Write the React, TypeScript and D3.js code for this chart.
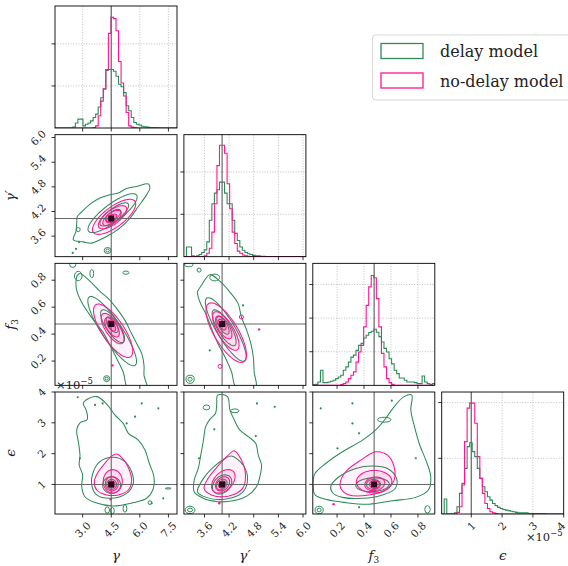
import React from "react";
import * as d3 from "d3";

type Pt = [number, number];
type Ell = [number, number, number, number, number, number]; // cx, cy, major(dx,dy), minor(dx,dy)
type Ring = [number, number, number, number]; // cx, cy, rx, ry

const GREEN = "#2e8b57";
const PINK = "#ff1493";
const FONT = "DejaVu Serif, serif";

// parameters: gamma, gamma', f3, epsilon (x1e-5)
const paramRanges: Pt[] = [[1.55, 7.95], [3.1, 6.07], [0.02, 0.925], [0.04, 4.0]];
const truthValues = [4.5, 4.03, 0.475, 1.0];
const tickValues = [[3.0, 4.5, 6.0, 7.5], [3.6, 4.2, 4.8, 5.4, 6.0], [0.2, 0.4, 0.6, 0.8], [1, 2, 3, 4]];
const tickLabels = [["3.0", "4.5", "6.0", "7.5"], ["3.6", "4.2", "4.8", "5.4", "6.0"], ["0.2", "0.4", "0.6", "0.8"], ["1", "2", "3", "4"]];
const histTop = [2.9, 2.88, 3.63, 2.19];
const histTicks = [[1, 2], [1, 2], [1, 2, 3], [1, 2]];

// 1d histograms (48 bins over each range)
const histGammaDelay = [0, 0, 0, 0, 0, 0, 0, 0.02, 0.12, 0.21, 0.21, 0.05, 0.09, 0.12, 0.17, 0.25, 0.33, 0.5, 0.72, 0.93, 1.37, 1.39, 1.39, 1.35, 1.23, 1.04, 0.98, 0.84, 0.53, 0.41, 0.25, 0.13, 0.09, 0.07, 0.04, 0.03, 0.02, 0.01, 0.01, 0.01, 0.005, 0, 0, 0, 0, 0, 0, 0];
const histGammaNoDelay = [0, 0, 0, 0, 0, 0, 0, 0, 0, 0, 0, 0, 0, 0, 0, 0.01, 0.05, 0.29, 0.64, 0.93, 1.39, 2.25, 2.63, 2.6, 2.31, 1.58, 1.07, 0.76, 0.37, 0.05, 0.02, 0.01, 0, 0, 0, 0, 0, 0, 0, 0, 0, 0, 0, 0, 0, 0, 0, 0];
const histGpDelay = [0, 0.23, 0.23, 0.02, 0.01, 0.02, 0.05, 0.1, 0.16, 0.35, 0.86, 1.25, 1.5, 1.58, 1.76, 1.76, 1.5, 1.25, 1.25, 0.86, 0.55, 0.38, 0.23, 0.15, 0.1, 0.07, 0.05, 0.03, 0.02, 0.02, 0.01, 0.01, 0, 0, 0, 0, 0, 0, 0, 0, 0, 0, 0, 0, 0, 0, 0, 0];
const histGpNoDelay = [0, 0, 0, 0, 0, 0, 0, 0, 0.02, 0.08, 0.2, 0.58, 1.25, 2.15, 2.63, 2.63, 2.44, 1.72, 1.13, 0.58, 0.31, 0.13, 0.08, 0.04, 0.02, 0.01, 0, 0, 0, 0, 0, 0, 0, 0, 0, 0, 0, 0, 0, 0, 0, 0, 0, 0, 0, 0, 0, 0];
const histF3Delay = [0.02, 0.03, 0.1, 0.45, 0.08, 0.08, 0.1, 0.12, 0.15, 0.2, 0.25, 0.3, 0.45, 0.55, 0.69, 0.84, 0.9, 1.04, 1.19, 1.25, 1.41, 1.49, 1.57, 1.61, 1.67, 1.58, 1.45, 1.29, 1.1, 0.99, 0.79, 0.64, 0.45, 0.35, 0.22, 0.22, 0.15, 0.1, 0.1, 0.1, 0.08, 0.05, 0.05, 0.28, 0.1, 0.05, 0.02, 0.05];
const histF3NoDelay = [0, 0, 0, 0, 0, 0, 0, 0, 0, 0, 0, 0.02, 0.05, 0.1, 0.2, 0.3, 0.4, 0.69, 0.99, 1.19, 1.74, 2.38, 2.93, 3.27, 3.2, 2.58, 1.74, 0.95, 0.55, 0.2, 0.08, 0.03, 0, 0, 0, 0, 0, 0, 0, 0, 0, 0, 0, 0, 0, 0, 0, 0];
const histEpsDelay = [0, 0.27, 0, 0, 0, 0.02, 0.13, 0.37, 0.55, 0.82, 1.21, 1.28, 1.12, 1.03, 0.82, 0.64, 0.49, 0.4, 0.31, 0.25, 0.19, 0.15, 0.12, 0.1, 0.08, 0.07, 0.06, 0.05, 0.04, 0.03, 0.02, 0.02, 0.02, 0.02, 0.01, 0.01, 0.01, 0.01, 0.01, 0.01, 0.01, 0, 0, 0, 0, 0, 0, 0];
const histEpsNoDelay = [0, 0, 0, 0, 0, 0, 0.03, 0.13, 0.52, 1.3, 1.9, 1.99, 1.99, 1.63, 1.03, 0.64, 0.37, 0.19, 0.1, 0.04, 0.02, 0.01, 0, 0, 0, 0, 0, 0, 0, 0, 0, 0, 0, 0, 0, 0, 0, 0, 0, 0, 0, 0, 0, 0, 0, 0, 0, 0];

const histDelay = [histGammaDelay, histGpDelay, histF3Delay, histEpsDelay];
const histNoDelay = [histGammaNoDelay, histGpNoDelay, histF3NoDelay, histEpsNoDelay];

// gamma' vs gamma
const outerD10: Pt[] = [[6.45, 4.87], [5.83, 4.81], [5.31, 4.76], [4.87, 4.65], [4.44, 4.61], [3.91, 4.53], [3.39, 4.38], [2.95, 4.19], [2.72, 4.08], [2.69, 3.92], [2.65, 3.72], [2.51, 3.51], [3.03, 3.46], [3.48, 3.43], [3.91, 3.51], [4.44, 3.64], [4.96, 3.8], [5.49, 4.04], [5.92, 4.32], [6.36, 4.61], [6.53, 4.77]];
const ellD10: Ell[] = [[4.57, 4.16, 1.26, 0.44, 0.28, -0.175], [4.66, 4.13, 0.73, 0.256, 0.19, -0.117], [4.6, 4.1, 0.38, 0.13, 0.126, -0.078]];
const ellN10: Ell[] = [[4.65, 4.07, 1.09, 0.38, 0.315, -0.195], [4.57, 4.06, 0.714, 0.248, 0.22, -0.136], [4.54, 4.04, 0.46, 0.16, 0.157, -0.097], [4.52, 4.03, 0.25, 0.088, 0.094, -0.058]];
const ringsD10: Ring[] = [[4.31, 3.25, 0.18, 0.073], [4.31, 3.25, 0.09, 0.035], [2.77, 3.76, 0.1, 0.05]];
const dotsD10: Pt[] = [[2.81, 3.46], [2.65, 3.29], [2.48, 3.19]];

// f3 vs gamma
const outerD20: Pt[] = [[2.86, 0.849], [3.39, 0.791], [3.91, 0.717], [4.35, 0.663], [4.79, 0.589], [5.22, 0.502], [5.57, 0.403], [5.84, 0.329], [6.1, 0.255], [6.22, 0.168], [6.22, 0.094], [6.36, 0.0], [5.4, -0.01], [5.13, 0.119], [4.79, 0.218], [4.44, 0.317], [4.08, 0.411], [3.65, 0.49], [3.24, 0.569], [2.9, 0.65], [2.69, 0.725], [2.65, 0.791], [2.72, 0.836]];
const ellD20: Ell[] = [[4.55, 0.422, 1.2, -0.254, 0.437, 0.041], [4.57, 0.459, 0.56, -0.1185, 0.284, 0.0268], [4.55, 0.47, 0.263, -0.0556, 0.175, 0.0165]];
const ellN20: Ell[] = [[4.6, 0.425, 0.91, -0.193, 0.48, 0.045], [4.57, 0.441, 0.513, -0.109, 0.306, 0.029], [4.54, 0.45, 0.32, -0.068, 0.218, 0.0206], [4.51, 0.461, 0.175, -0.037, 0.131, 0.0124]];
const ringsD20: Ring[] = [[2.48, 0.915, 0.16, 0.02], [2.77, 0.831, 0.2, 0.035], [3.48, 0.849, 0.1, 0.03], [5.27, 0.856, 0.16, 0.012], [4.26, 0.07, 0.16, 0.022], [4.26, 0.07, 0.08, 0.011]];
const dotsN20: Pt[] = [[4.56, 0.168]];

// eps vs gamma
const outerD30: Pt[] = [[3.18, 3.74], [3.74, 3.85], [4.26, 3.61], [4.7, 3.25], [5.13, 2.98], [5.4, 2.66], [5.92, 2.44], [6.27, 2.12], [6.5, 1.68], [6.74, 1.25], [6.68, 0.82], [6.36, 0.55], [5.66, 0.41], [4.61, 0.3], [3.65, 0.41], [3.12, 0.6], [2.95, 0.95], [3.0, 1.31], [2.82, 1.63], [2.86, 1.95], [2.79, 2.33], [2.69, 2.77], [2.86, 3.0], [3.24, 3.11], [3.18, 3.42], [3.03, 3.63]];
const shapeD30: Pt[] = [[3.91, 1.74], [4.61, 1.88], [5.22, 1.74], [5.57, 1.41], [5.66, 1.04], [5.31, 0.71], [4.44, 0.55], [3.74, 0.66], [3.48, 0.98], [3.56, 1.41]];
const shapeN30: Pt[] = [[4.79, 1.99], [5.17, 1.79], [5.45, 1.47], [5.57, 1.14], [5.4, 0.82], [4.87, 0.66], [4.26, 0.66], [3.74, 0.82], [3.61, 1.09], [3.82, 1.41], [4.17, 1.69], [4.52, 1.92]];
const ellD30: Ell[] = [[4.52, 0.98, 0.47, 0, 0, 0.27], [4.52, 1.0, 0.26, 0, 0, 0.16]];
const ellN30: Ell[] = [[4.58, 1.1, 0.5, 0, 0, 0.38], [4.53, 1.02, 0.34, 0, 0, 0.23], [4.52, 1.0, 0.18, 0, 0, 0.11]];
const ringsD30: Ring[] = [[6.53, 0.41, 0.1, 0.06], [4.29, 0.17, 0.12, 0.1], [4.56, 0.15, 0.1, 0.1], [5.22, 0.22, 0.1, 0.12], [7.49, 0.87, 0.15, 0.02]];
const dotsD30: Pt[] = [[2.74, 3.83], [3.65, 3.58], [4.05, 3.63], [6.1, 3.63], [6.97, 3.47], [5.75, 3.2], [5.31, 2.98], [6.62, 0.39], [7.23, 0.55], [2.86, 1.85]];
const dotsN30: Pt[] = [[4.47, 0.52]];

// f3 vs gamma'
const outerD21: Pt[] = [[3.73, 0.841], [3.98, 0.791], [4.22, 0.712], [4.42, 0.626], [4.5, 0.527], [4.63, 0.428], [4.73, 0.329], [4.79, 0.23], [4.81, 0.119], [4.85, 0.0], [4.38, 0.0], [4.26, 0.119], [4.1, 0.23], [3.93, 0.329], [3.79, 0.428], [3.65, 0.539], [3.49, 0.638], [3.43, 0.712], [3.53, 0.762]];
const ellD21: Ell[] = [[4.12, 0.434, 0.46, -0.234, 0.19, 0.035], [4.08, 0.447, 0.258, -0.131, 0.136, 0.0248], [4.05, 0.465, 0.125, -0.0636, 0.083, 0.0153]];
const ellN21: Ell[] = [[4.13, 0.411, 0.425, -0.216, 0.25, 0.046], [4.12, 0.423, 0.275, -0.14, 0.167, 0.0305], [4.07, 0.45, 0.163, -0.0826, 0.115, 0.021], [4.03, 0.47, 0.075, -0.038, 0.063, 0.0114]];
const ringsD21: Ring[] = [[3.22, 0.915, 0.1, 0.015], [3.47, 0.875, 0.05, 0.015], [3.25, 0.065, 0.1, 0.03], [3.25, 0.065, 0.05, 0.015], [3.85, 0.82, 0.12, 0.025]];
const dotsD21: Pt[] = [[3.73, 0.28], [4.54, 0.613]];
const ringsN21: Ring[] = [[4.5, 0.527, 0.05, 0.015], [3.98, 0.161, 0.05, 0.015]];
const dotsN21: Pt[] = [[4.93, 0.435]];

// eps vs gamma'
const outerD31: Pt[] = [[3.92, 3.9], [4.16, 3.85], [4.22, 3.42], [4.32, 3.11], [4.46, 2.77], [4.67, 2.55], [4.85, 2.33], [4.91, 1.95], [4.99, 1.63], [4.95, 1.25], [4.87, 0.93], [4.63, 0.62], [4.3, 0.47], [3.93, 0.44], [3.57, 0.55], [3.35, 0.76], [3.35, 1.14], [3.45, 1.52], [3.51, 1.95], [3.57, 2.39], [3.63, 2.87], [3.73, 3.11], [3.87, 3.31], [3.9, 3.63]];
const shapeD31: Pt[] = [[4.26, 1.92], [4.54, 1.63], [4.65, 1.2], [4.54, 0.76], [4.1, 0.52], [3.65, 0.58], [3.43, 0.76], [3.55, 1.14], [3.81, 1.55], [4.06, 1.81]];
const shapeN31: Pt[] = [[4.32, 2.09], [4.5, 1.79], [4.6, 1.31], [4.53, 0.87], [4.18, 0.62], [3.77, 0.66], [3.59, 0.87], [3.69, 1.2], [3.93, 1.6], [4.18, 1.95]];
const ellD31: Ell[] = [[4.03, 1.0, 0.19, 0.25, 0.138, -0.184], [4.02, 1.0, 0.103, 0.138, 0.077, -0.103]];
const ellN31: Ell[] = [[4.06, 1.1, 0.241, 0.321, 0.155, -0.207], [4.04, 1.02, 0.138, 0.184, 0.103, -0.138], [4.03, 1.0, 0.069, 0.092, 0.052, -0.069]];
const ringsD31: Ring[] = [[3.65, 3.5, 0.08, 0.08], [4.34, 3.39, 0.1, 0.06], [3.25, 0.17, 0.12, 0.12], [3.25, 0.17, 0.06, 0.06]];
const dotsD31: Pt[] = [[4.88, 3.63], [5.31, 3.52], [3.84, 2.79], [3.47, 1.85], [4.85, 2.57]];
const dotsN31: Pt[] = [[3.96, 0.39]];

// eps vs f3
const outerD32: Pt[] = [[0.037, 1.36], [0.116, 1.68], [0.24, 2.06], [0.389, 2.44], [0.487, 2.77], [0.562, 3.15], [0.623, 3.52], [0.697, 3.85], [0.754, 3.9], [0.747, 3.42], [0.771, 2.93], [0.813, 2.28], [0.863, 1.74], [0.895, 1.25], [0.878, 0.82], [0.782, 0.58], [0.611, 0.47], [0.438, 0.36], [0.265, 0.41], [0.116, 0.52], [0.037, 0.66], [0.022, 1.04]];
const shapeD32: Pt[] = [[0.154, 0.95], [0.215, 1.25], [0.339, 1.52], [0.463, 1.6], [0.574, 1.52], [0.641, 1.2], [0.631, 0.87], [0.537, 0.66], [0.389, 0.55], [0.24, 0.58], [0.166, 0.73]];
const shapeN32: Pt[] = [[0.228, 1.14], [0.277, 1.47], [0.376, 1.79], [0.487, 2.06], [0.574, 1.95], [0.623, 1.57], [0.623, 1.14], [0.562, 0.82], [0.438, 0.66], [0.289, 0.66], [0.228, 0.87]];
const ellD32: Ell[] = [[0.463, 0.99, 0.124, 0.04, -0.01, 0.22], [0.47, 1.0, 0.052, 0, 0, 0.16]];
const ellN32: Ell[] = [[0.475, 1.09, 0.13, 0.06, -0.02, 0.36], [0.48, 1.02, 0.074, 0.03, 0, 0.22], [0.478, 1.0, 0.037, 0, 0, 0.13]];
const ringsD32: Ring[] = [[0.067, 0.17, 0.03, 0.12], [0.067, 0.17, 0.015, 0.06], [0.871, 0.19, 0.02, 0.12], [0.55, 3.1, 0.05, 0.08]];
const dotsD32: Pt[] = [[0.079, 3.47], [0.314, 3.63], [0.314, 2.98], [0.363, 2.66], [0.606, 3.72], [0.203, 2.17], [0.784, 1.85], [0.363, 0.26]];
const dotsN32: Pt[] = [[0.174, 0.36]];

const panels = [
  { r: 1, c: 0, outer: outerD10, shapeD: null, shapeN: null, ellD: ellD10, ellN: ellN10, ringsD: ringsD10, dotsD: dotsD10, ringsN: [], dotsN: [] },
  { r: 2, c: 0, outer: outerD20, shapeD: null, shapeN: null, ellD: ellD20, ellN: ellN20, ringsD: ringsD20, dotsD: [], ringsN: [], dotsN: dotsN20 },
  { r: 3, c: 0, outer: outerD30, shapeD: shapeD30, shapeN: shapeN30, ellD: ellD30, ellN: ellN30, ringsD: ringsD30, dotsD: dotsD30, ringsN: [], dotsN: dotsN30 },
  { r: 2, c: 1, outer: outerD21, shapeD: null, shapeN: null, ellD: ellD21, ellN: ellN21, ringsD: ringsD21, dotsD: dotsD21, ringsN: ringsN21, dotsN: dotsN21 },
  { r: 3, c: 1, outer: outerD31, shapeD: shapeD31, shapeN: shapeN31, ellD: ellD31, ellN: ellN31, ringsD: ringsD31, dotsD: dotsD31, ringsN: [], dotsN: dotsN31 },
  { r: 3, c: 2, outer: outerD32, shapeD: shapeD32, shapeN: shapeN32, ellD: ellD32, ellN: ellN32, ringsD: ringsD32, dotsD: dotsD32, ringsN: [], dotsN: dotsN32 },
];

const SIZE = 122;
const X0 = 55, Y0 = 6, STEP_X = 128.9, STEP_Y = 128.67;
const pinkFill = [0.06, 0.09, 0.14, 0.25];

function ellPts(e: Ell): Pt[] {
  const [cx, cy, ax, ay, bx, by] = e;
  return d3.range(64).map(i => {
    const t = (i / 64) * 2 * Math.PI;
    return [cx + ax * Math.cos(t) + bx * Math.sin(t), cy + ay * Math.cos(t) + by * Math.sin(t)] as Pt;
  });
}

// rough DejaVu Serif advance widths
function textW(s: string, fs: number) {
  return s.split("").reduce((a, ch) => a + (ch === "." ? 0.32 : 0.636) * fs, 0);
}

export default function App() {
  const colX = d3.range(4).map(i => X0 + i * STEP_X);
  const rowY = d3.range(4).map(j => Y0 + j * STEP_Y);
  const xs = paramRanges.map((r, i) => d3.scaleLinear().domain(r).range([colX[i], colX[i] + SIZE]));
  const ys = paramRanges.map((r, j) => d3.scaleLinear().domain(r).range([rowY[j] + SIZE, rowY[j]]));
  const hy = histTop.map((m, i) => d3.scaleLinear().domain([0, m]).range([rowY[i] + SIZE, rowY[i]]));

  function stepPath(vals: number[], i: number) {
    const [lo, hi] = paramRanges[i];
    const w = (hi - lo) / vals.length;
    const pts: Pt[] = [[lo, 0]];
    vals.forEach((v, k) => { pts.push([lo + k * w, v]); pts.push([lo + (k + 1) * w, v]); });
    pts.push([hi, 0]);
    return d3.line<Pt>().x(p => xs[i](p[0])).y(p => hy[i](p[1]))(pts) || "";
  }

  const tickFs = 10.5;

  function axisTicks(r: number, c: number) {
    const bottom = rowY[r] + SIZE;
    const left = colX[c];
    const out: React.ReactNode[] = [];
    tickValues[c].forEach((t, k) => {
      const x = xs[c](t);
      out.push(<line key={"xt" + k} x1={x} x2={x} y1={bottom} y2={bottom + 3.5} stroke="#000" strokeWidth={0.8} />);
      if (r === 3) {
        const s = tickLabels[c][k];
        const L = textW(s, tickFs);
        const cy = bottom + 7 + 0.354 * (L + 7);
        const cx = c === 3 && k === tickValues[c].length - 1 ? x - 3 : x;
        out.push(
          <text key={"xl" + k} transform={`translate(${cx},${cy}) rotate(-45)`} textAnchor="middle" dominantBaseline="central" fontSize={tickFs} fontFamily={FONT} fill="#222">{s}</text>
        );
      }
    });
    const yv = r === c ? histTicks[c] : tickValues[r];
    const yscale = r === c ? hy[c] : ys[r];
    yv.forEach((t, k) => {
      const y = yscale(t);
      out.push(<line key={"yt" + k} x1={left - 3.5} x2={left} y1={y} y2={y} stroke="#000" strokeWidth={0.8} />);
      if (c === 0 && r > 0) {
        const s = tickLabels[r][k];
        const L = textW(s, tickFs);
        out.push(
          <text key={"yl" + k} transform={`translate(${left - 11},${y - 0.354 * L}) rotate(-45)`} textAnchor="end" dominantBaseline="central" fontSize={tickFs} fontFamily={FONT} fill="#222">{s}</text>
        );
      }
    });
    return out;
  }

  const diag = d3.range(4).map(i => {
    const x0 = colX[i], y0 = rowY[i];
    return (
      <g key={"d" + i}>
        <defs>
          <clipPath id={"cd" + i}><rect x={x0} y={y0} width={SIZE} height={SIZE} /></clipPath>
        </defs>
        <g clipPath={`url(#cd${i})`}>
          {tickValues[i].map((t, k) => (
            <line key={"gx" + k} x1={xs[i](t)} x2={xs[i](t)} y1={y0} y2={y0 + SIZE} stroke="#b0b0b0" strokeWidth={0.8} strokeDasharray="1,1.6" />
          ))}
          {histTicks[i].map((t, k) => (
            <line key={"gy" + k} x1={x0} x2={x0 + SIZE} y1={hy[i](t)} y2={hy[i](t)} stroke="#b0b0b0" strokeWidth={0.8} strokeDasharray="1,1.6" />
          ))}
          <path d={stepPath(histDelay[i], i)} fill="none" stroke={GREEN} strokeWidth={1.1} />
          <path d={stepPath(histNoDelay[i], i)} fill="none" stroke={PINK} strokeWidth={1.1} />
          <line x1={xs[i](truthValues[i])} x2={xs[i](truthValues[i])} y1={y0} y2={y0 + SIZE} stroke="#666" strokeWidth={1.2} />
        </g>
        <rect x={x0} y={y0} width={SIZE} height={SIZE} fill="none" stroke="#000" strokeWidth={0.9} />
        {axisTicks(i, i)}
      </g>
    );
  });

  const twoD = panels.map((p, n) => {
    const { r, c } = p;
    const x0 = colX[c], y0 = rowY[r];
    const sx = xs[c], sy = ys[r];
    const smooth = d3.line<Pt>().x(q => sx(q[0])).y(q => sy(q[1])).curve(d3.curveCatmullRomClosed.alpha(0.5));
    const closed = d3.line<Pt>().x(q => sx(q[0])).y(q => sy(q[1])).curve(d3.curveLinearClosed);
    const greenPaths = [smooth(p.outer) || ""];
    if (p.shapeD) greenPaths.push(smooth(p.shapeD) || "");
    p.ellD.forEach(e => greenPaths.push(closed(ellPts(e)) || ""));
    const pinkPaths: string[] = [];
    if (p.shapeN) pinkPaths.push(smooth(p.shapeN) || "");
    p.ellN.forEach(e => pinkPaths.push(closed(ellPts(e)) || ""));
    const tx = sx(truthValues[c]), ty = sy(truthValues[r]);
    const ring = (g: Ring, k: number, col: string) => (
      <ellipse key={k} cx={sx(g[0])} cy={sy(g[1])} rx={Math.abs(sx(g[0] + g[2]) - sx(g[0]))} ry={Math.abs(sy(g[1] + g[3]) - sy(g[1]))} fill="none" stroke={col} strokeWidth={1} />
    );
    return (
      <g key={"p" + n}>
        <defs>
          <clipPath id={"cp" + n}><rect x={x0} y={y0} width={SIZE} height={SIZE} /></clipPath>
        </defs>
        <g clipPath={`url(#cp${n})`}>
          {greenPaths.map((d, k) => <path key={"g" + k} d={d} fill="none" stroke={GREEN} strokeWidth={1.05} />)}
          {p.ringsD.map((g, k) => ring(g, k, GREEN))}
          {p.dotsD.map((q, k) => <circle key={"dd" + k} cx={sx(q[0])} cy={sy(q[1])} r={1.1} fill={GREEN} />)}
          {pinkPaths.map((d, k) => <path key={"pf" + k} d={d} fill={PINK} fillOpacity={pinkFill[Math.min(k, pinkFill.length - 1)]} stroke="none" />)}
          {pinkPaths.map((d, k) => <path key={"ps" + k} d={d} fill="none" stroke={PINK} strokeWidth={1.05} />)}
          {p.ringsN.map((g, k) => ring(g, k, PINK))}
          {p.dotsN.map((q, k) => <circle key={"dn" + k} cx={sx(q[0])} cy={sy(q[1])} r={1.2} fill={PINK} />)}
          <line x1={tx} x2={tx} y1={y0} y2={y0 + SIZE} stroke="#666" strokeWidth={1.1} />
          <line x1={x0} x2={x0 + SIZE} y1={ty} y2={ty} stroke="#666" strokeWidth={1.1} />
          <rect x={tx - 3} y={ty - 3} width={6} height={6} fill="#2a0a1a" />
        </g>
        <rect x={x0} y={y0} width={SIZE} height={SIZE} fill="none" stroke="#000" strokeWidth={0.9} />
        {axisTicks(r, c)}
      </g>
    );
  });

  const labelY = 560;
  const axisNames = [
    <tspan fontStyle="italic">γ</tspan>,
    <tspan fontStyle="italic">γ′</tspan>,
    <><tspan fontStyle="italic">f</tspan><tspan fontSize={9} dy={3}>3</tspan></>,
    <tspan fontStyle="italic">ϵ</tspan>,
  ];

  return (
    <svg width={568} height={566} style={{ position: "absolute", left: 0, top: 0, background: "#fff" }}>
      <rect x={0} y={0} width={568} height={566} fill="#fff" />
      {diag}
      {twoD}
      {d3.range(4).map(i => (
        <text key={"bx" + i} x={colX[i] + SIZE / 2} y={labelY} textAnchor="middle" fontSize={13.5} fontFamily={FONT} fill="#222">{axisNames[i]}</text>
      ))}
      {d3.range(1, 4).map(j => (
        <text key={"ly" + j} transform={`translate(15,${rowY[j] + SIZE / 2}) rotate(-90)`} textAnchor="middle" fontSize={13.5} fontFamily={FONT} fill="#222">{axisNames[j]}</text>
      ))}
      <text x={colX[0] + 1} y={rowY[3] - 3} fontSize={11.5} fontFamily={FONT} fill="#222">×10<tspan fontSize={8.5} dy={-5}>−5</tspan></text>
      <text x={colX[3] + SIZE - 1} y={541} textAnchor="end" fontSize={11.5} fontFamily={FONT} fill="#222">×10<tspan fontSize={8.5} dy={-5}>−5</tspan></text>
      <g>
        <rect x={372.5} y={35} width={220} height={65} rx={3} fill="#fff" stroke="#d6d6d6" strokeWidth={1} />
        <rect x={381} y={43.5} width={42} height={15} fill="none" stroke={GREEN} strokeWidth={1.3} />
        <text x={440} y={57} fontSize={16} fontFamily={FONT} fill="#222">delay model</text>
        <rect x={381} y={73} width={42} height={15} fill="none" stroke={PINK} strokeWidth={1.3} />
        <text x={440} y={86.5} fontSize={16} fontFamily={FONT} fill="#222">no-delay model</text>
      </g>
    </svg>
  );
}
